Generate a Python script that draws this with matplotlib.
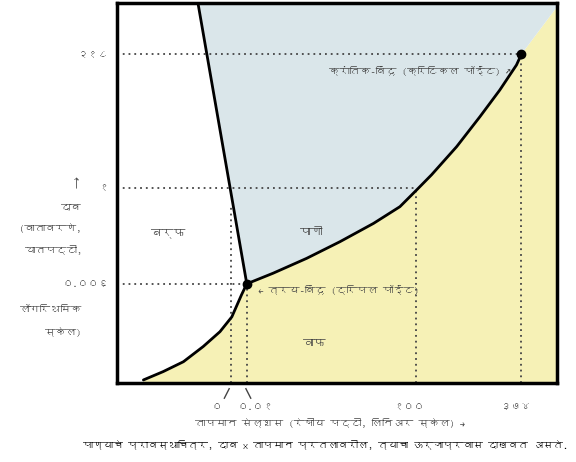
import matplotlib
matplotlib.use('Agg')
import matplotlib.pyplot as plt
from matplotlib import font_manager
from fontTools.ttLib import TTFont


def find_devanagari_font():
    for f in font_manager.fontManager.ttflist:
        try:
            tt = TTFont(f.fname, fontNumber=0, lazy=True)
            if 0x0915 in tt.getBestCmap():
                return f.name
        except Exception:
            pass
    return None


deva = find_devanagari_font()
fams = [deva, 'DejaVu Sans'] if deva else ['DejaVu Sans']
plt.rcParams['font.family'] = fams

# schematic positions (not to scale), axes run 0..100 both ways
x_ticks = [25.9, 29.5, 68.0, 91.9]
x_labels = ['०', '०.०१', '१००', '३७४']
x_label_pos = [22.7, 31.4, 66.4, 90.7]
y_ticks = [26.1, 51.3, 86.5]
y_labels = ['०.००६', '१', '२१८']

triple = (29.5, 26.1)
critical = (91.9, 86.5)

melt_x = [18.4, 29.5]
melt_y = [100.0, 26.1]

subl_x = [6.0, 10.5, 15.1, 19.6, 23.4, 26.1, 28.3, 29.5]
subl_y = [0.8, 3.0, 5.6, 9.6, 13.5, 17.4, 23.2, 26.1]

vap_x = [29.5, 35.5, 43.1, 50.7, 58.3, 64.3, 68.1, 71.5, 77.2, 82.5, 87.0, 90.8, 91.9]
vap_y = [26.1, 28.9, 32.8, 37.2, 42.0, 46.4, 50.8, 54.8, 62.2, 70.1, 77.1, 83.7, 86.5]

super_x = [91.9, 100.0]
super_y = [86.5, 99.0]

blue = '#dae6ea'
yellow = '#f6f1b6'

fig = plt.figure(figsize=(5.76, 4.62), dpi=100)
ax = fig.add_axes([0.2031, 0.171, 0.7639, 0.8225])
ax.set_xlim(0, 100)
ax.set_ylim(0, 100)

# regions
yx = subl_x + vap_x[1:] + super_x[1:] + [100, subl_x[0]]
yy = subl_y + vap_y[1:] + super_y[1:] + [0, 0]
ax.fill(yx, yy, color=yellow, lw=0, zorder=1)
bx = melt_x + vap_x[1:] + super_x[1:] + [100]
by = melt_y + vap_y[1:] + super_y[1:] + [100]
ax.fill(bx, by, color=blue, lw=0, zorder=1)

# dotted guides
dot = dict(color='#444444', lw=1.3, linestyle=(0, (1, 2.2)), zorder=2)
ax.plot([0, critical[0]], [critical[1], critical[1]], **dot)
ax.plot([0, 68.0], [51.3, 51.3], **dot)
ax.plot([0, triple[0]], [triple[1], triple[1]], **dot)
ax.plot([25.9, 25.9], [0, 46.5], **dot)
ax.plot([triple[0], triple[0]], [0, triple[1]], **dot)
ax.plot([68.0, 68.0], [0, 51.3], **dot)
ax.plot([critical[0], critical[0]], [0, critical[1]], **dot)

# phase boundaries
line = dict(color='black', lw=2, zorder=3, solid_capstyle='round', solid_joinstyle='round')
ax.plot(melt_x, melt_y, **line)
ax.plot(subl_x, subl_y, **line)
ax.plot(vap_x, vap_y, **line)
ax.plot([triple[0], critical[0]], [triple[1], critical[1]], 'o', color='black', ms=6, zorder=4)

for s in ax.spines.values():
    s.set_linewidth(2.5)
    s.set_zorder(5)

tc = '#444444'
ax.set_xticks([])
ax.set_yticks(y_ticks)
ax.set_yticklabels(y_labels, fontsize=7.5, color=tc)
ax.tick_params(axis='y', length=0, pad=6)

for xp, lab in zip(x_label_pos, x_labels):
    ax.text(xp, -6.3, lab, ha='center', va='center', fontsize=7.5, color=tc, clip_on=False)
ax.plot([25.5, 24.4], [-1.5, -4.0], color=tc, lw=1, clip_on=False)
ax.plot([29.3, 30.4], [-1.5, -4.0], color=tc, lw=1, clip_on=False)

ax.text(11.4, 39.5, 'बर्फ', ha='center', va='center', fontsize=8.5, color=tc)
ax.text(44.3, 39.5, 'पाणी', ha='center', va='center', fontsize=8.5, color=tc)
ax.text(45.0, 10.5, 'वाफ', ha='center', va='center', fontsize=8.5, color=tc)
ax.text(32.0, 24.5, '← त्रय-बिंदू (ट्रिपल पॉईंट)', ha='left', va='center', fontsize=7.5, color=tc)
ax.text(89.5, 82.0, 'क्रांतिक-बिंदू (क्रिटिकल पॉईंट) ↗', ha='right', va='center', fontsize=7.5, color=tc)

fig.text(0.131, 0.604, '↑', ha='center', va='center', fontsize=9, color=tc)
ylab = ['दाब', '(वातावरणे,', 'घातपट्टी,', 'लॉगरिथमिक', 'स्केल)']
ypos = [0.552, 0.506, 0.459, 0.329, 0.281]
for t, yp in zip(ylab, ypos):
    fig.text(0.142, yp, t, ha='right', va='center', fontsize=7.5, color=tc)

fig.text(0.573, 0.085, 'तापमान सेल्शस (रेषीय पट्टी, लिनिअर स्केल) →', ha='center', va='center',
         fontsize=7.5, color=tc)
fig.text(0.565, 0.037, 'पाण्याचे प्रावस्थाचित्र, दाब x तापमान प्रतलावरील, त्याचा ऊर्जाप्रवास दाखवत असते.',
         ha='center', va='center', fontsize=7.2, fontweight='bold', color='black')

fig.savefig('out.png', dpi=100)
